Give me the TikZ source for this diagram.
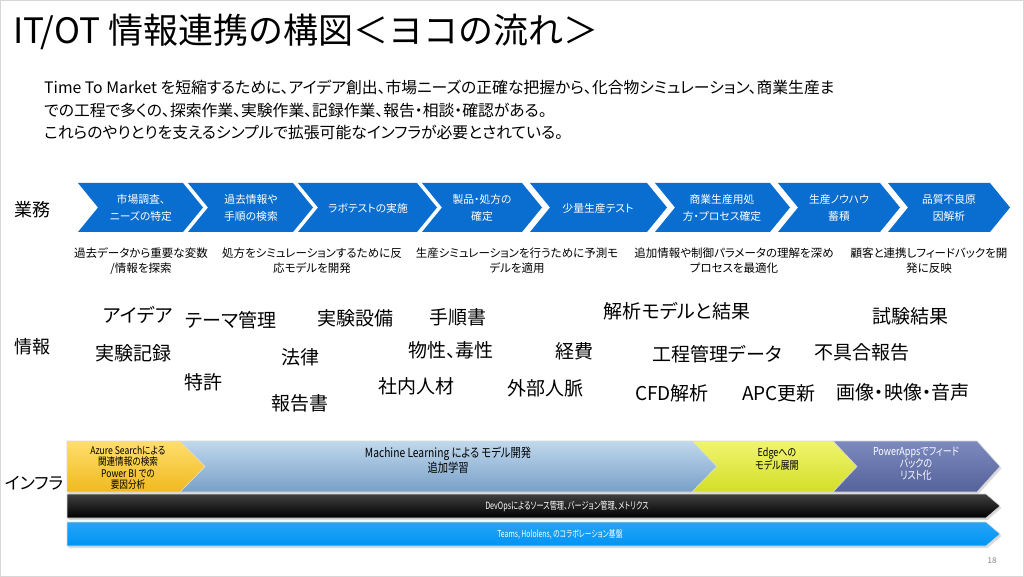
\documentclass[tikz,border=0pt]{standalone}
\usepackage{fontspec}
\setmainfont{Noto Sans CJK JP}[RawFeature=+palt]
\newfontfamily\titlefont{Noto Sans CJK JP}
\newfontfamily\narrowjp{Noto Sans CJK JP}[RawFeature=+palt, FakeStretch=0.82]
\newfontfamily\narrowerjp{Noto Sans CJK JP}[RawFeature=+palt, FakeStretch=0.72]
\definecolor{chev}{RGB}{10,110,208}
\definecolor{mlblue}{RGB}{150,190,225}
\definecolor{mlbluedk}{RGB}{120,160,200}
\definecolor{azy}{RGB}{255,222,110}
\definecolor{azydk}{RGB}{240,185,30}
\definecolor{edgey}{RGB}{240,245,110}
\definecolor{edgeydk}{RGB}{210,222,40}
\definecolor{pwa}{RGB}{125,138,190}
\definecolor{pwadk}{RGB}{85,98,155}
\definecolor{teamsb}{RGB}{0,148,245}
\definecolor{framegray}{RGB}{215,215,215}
\newcommand\chevshape[2]{%
  \fill[chev] (#1,183) -- (#2-20,183) -- (#2,207.5) -- (#2-20,232) -- (#1,232) -- (#1+20,207.5) -- cycle;}
\tikzset{
  chevtxt/.style={inner sep=0, align=center, text=white, font=\fontsize{10.8}{17}\selectfont},
  desctxt/.style={inner sep=0, align=center, font=\fontsize{11.5}{15}\selectfont},
  infoword/.style={inner sep=0, font=\fontsize{19}{22}\selectfont},
  rowlabel/.style={inner sep=0, font=\fontsize{18}{22}\selectfont},
  bodyline/.style={inner sep=0, anchor=base west, font=\fontsize{15.8}{20}\selectfont},
  bandedge/.style={draw=white!70!gray, line width=0.6pt},
  bandshadow/.style={fill=black!14, shift={(1.5,2)}},
}
\begin{document}
\begin{tikzpicture}[x=1pt,y=-1pt]
\useasboundingbox (0,0) rectangle (1024,577);
\fill[white] (0,0) rectangle (1024,577);
\draw[framegray, line width=2.5pt] (0,0) rectangle (1024,577);

% title
\node[inner sep=0, anchor=west, font=\titlefont\fontsize{35}{40}\selectfont] (title) at (13,32) {IT/OT 情報連携の構図＜ヨコの流れ＞};

% description
\node[bodyline] (d1) at (44,94) {Time To Market を短縮するために、アイデア創出、市場ニーズの正確な把握から、化合物シミュレーション、商業生産ま};
\node[bodyline] (d2) at (44,116.5) {での工程で多くの、探索作業、実験作業、記録作業、報告・相談・確認がある。};
\node[bodyline] (d3) at (44,139) {これらのやりとりを支えるシンプルで拡張可能なインフラが必要とされている。};

% row labels
\node[rowlabel] (lgyomu) at (32,210) {業務};
\node[rowlabel] (ljoho) at (32,347) {情報};
\node[rowlabel, font=\fontsize{17}{22}\selectfont] (linfra) at (34,483) {インフラ};

% chevrons
\chevshape{78}{203}
\chevshape{188}{313}
\chevshape{298}{437}
\chevshape{422}{542}
\chevshape{530}{667}
\chevshape{655}{790}
\chevshape{778}{900}
\chevshape{888}{1010}
\node[chevtxt] (c1) at (141,208) {市場調査、\\ニーズの特定};
\node[chevtxt] (c2) at (251,208) {過去情報や\\手順の検索};
\node[chevtxt] (c3) at (368,208) {ラボテストの実施};
\node[chevtxt] (c4) at (482,208) {製品・処方の\\確定};
\node[chevtxt] (c5) at (598,208) {少量生産テスト};
\node[chevtxt] (c6) at (722,208) {商業生産用処\\方・プロセス確定};
\node[chevtxt] (c7) at (839,208) {生産ノウハウ\\蓄積};
\node[chevtxt] (c8) at (949,208) {品質不良原\\因解析};

% descriptions below chevrons
\node[desctxt] (e1) at (141,261) {過去データから重要な変数\\/情報を探索};
\node[desctxt] (e2) at (312,261) {処方をシミュレーションするために反\\応モデルを開発};
\node[desctxt] (e3) at (517,261) {生産シミュレーションを行うために予測モ\\デルを適用};
\node[desctxt] (e4) at (734,261) {追加情報や制御パラメータの理解を深め\\プロセスを最適化};
\node[desctxt] (e5) at (929,261) {顧客と連携しフィードバックを開\\発に反映};

% info words
\node[infoword] (w1) at (138,315) {アイデア};
\node[infoword] (w2) at (231,320) {テーマ管理};
\node[infoword] (w3) at (355,318) {実験設備};
\node[infoword] (w4) at (458,317) {手順書};
\node[infoword] (w5) at (677,311) {解析モデルと結果};
\node[infoword] (w6) at (910,316) {試験結果};
\node[infoword] (w7) at (133,353) {実験記録};
\node[infoword] (w8) at (300,357) {法律};
\node[infoword] (w9) at (451,350) {物性、毒性};
\node[infoword] (w10) at (574,351) {経費};
\node[infoword] (w11) at (717,354) {工程管理データ};
\node[infoword] (w12) at (862,352) {不具合報告};
\node[infoword] (w13) at (203,382) {特許};
\node[infoword] (w14) at (416,386) {社内人材};
\node[infoword] (w15) at (545,388) {外部人脈};
\node[infoword] (w16) at (672,393) {CFD解析};
\node[infoword] (w17) at (779,393) {APC更新};
\node[infoword] (w18) at (903,392) {画像・映像・音声};
\node[infoword] (w19) at (300,403) {報告書};

% infra band shadows
\fill[bandshadow] (67,441) -- (977,441) -- (1000,466.5) -- (977,492) -- (67,492) -- cycle;
\fill[bandshadow] (67,494) -- (986,494) -- (1000,506) -- (986,518) -- (67,518) -- cycle;
\fill[bandshadow] (67,522) -- (986,522) -- (1000,534) -- (986,546) -- (67,546) -- cycle;
% top band pieces
\shade[bandedge, top color=mlblue!60!white, bottom color=mlbluedk] (180,441) -- (692,441) -- (717,466.5) -- (692,492) -- (180,492) -- (205,466.5) -- cycle;
\shade[bandedge, top color=azy, bottom color=azydk] (67,441) -- (180,441) -- (205,466.5) -- (180,492) -- (67,492) -- cycle;
\shade[bandedge, top color=edgey, bottom color=edgeydk] (692,441) -- (833,441) -- (857,466.5) -- (833,492) -- (692,492) -- (717,466.5) -- cycle;
\shade[bandedge, top color=pwa, bottom color=pwadk] (833,441) -- (977,441) -- (1000,466.5) -- (977,492) -- (833,492) -- (857,466.5) -- cycle;
\shade[bandedge, top color=black!75, bottom color=black] (67,494) -- (986,494) -- (1000,506) -- (986,518) -- (67,518) -- cycle;
\shade[bandedge, top color=teamsb!85!white, bottom color=teamsb] (67,522) -- (986,522) -- (1000,534) -- (986,546) -- (67,546) -- cycle;

\node[inner sep=0, align=center, font=\narrowjp\fontsize{10.5}{11.5}\selectfont] (azure) at (128,468) {Azure Searchによる\\関連情報の検索\\Power BI での\\要因分析};
\node[inner sep=0, align=center, font=\narrowjp\fontsize{12.5}{13.5}\selectfont] (ml) at (448,460) {Machine Learning による モデル開発\\追加学習};
\node[inner sep=0, align=center, font=\narrowjp\fontsize{11}{12}\selectfont] (edge) at (777,459) {Edgeへの\\モデル展開};
\node[inner sep=0, align=center, text=white, font=\narrowjp\fontsize{11}{12}\selectfont] (pwa) at (916,464) {PowerAppsでフィード\\バックの\\リスト化};
\node[inner sep=0, text=white, font=\narrowerjp\fontsize{10}{12}\selectfont] (devops) at (567,506) {DevOpsによるソース管理、バージョン管理、メトリクス};
\node[inner sep=0, text=white, font=\narrowerjp\fontsize{9.5}{12}\selectfont] (teams) at (560,534) {Teams, Hololens, のコラボレーション基盤};

\node[inner sep=0, text=black!50, font=\fontsize{8}{10}\selectfont] (pgno) at (992,561) {18};
\end{tikzpicture}
\end{document}
